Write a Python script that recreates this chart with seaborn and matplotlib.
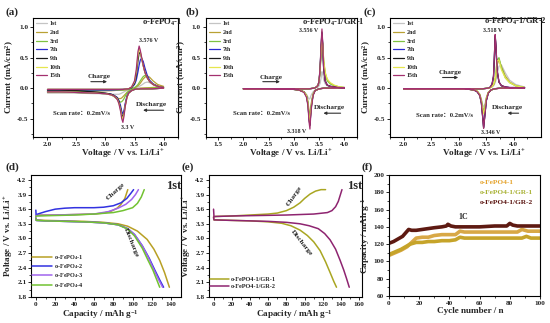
import matplotlib
matplotlib.use('Agg')
import matplotlib.pyplot as plt
import seaborn as sns
import numpy as np

sns.set_theme(style='ticks')
plt.rcParams['font.family'] = ['Liberation Serif', 'Noto Sans CJK SC', 'DejaVu Sans']
plt.rcParams['font.weight'] = 'bold'
plt.rcParams['axes.labelweight'] = 'bold'
plt.rcParams['mathtext.fontset'] = 'custom'
plt.rcParams['mathtext.rm'] = 'Liberation Serif:bold'
plt.rcParams['mathtext.it'] = 'Liberation Serif:bold'
plt.rcParams['mathtext.bf'] = 'Liberation Serif:bold'
plt.rcParams['mathtext.default'] = 'rm'

# ---------------- data ----------------
cycles = ['1st', '2nd', '3rd', '7th', '9th', '10th', '15th']
cycle_colors = ['#c4c4c4', '#b9a134', '#7fc241', '#2a2ad0', '#1a1a1a', '#e6e64e', '#a3306f']

# (a) o-FePO4-1
a_va = [2.0, 2.3, 2.6, 2.9, 3.1, 3.3, 3.4, 3.45, 3.5, 3.53, 3.56, 3.58, 3.6, 3.62, 3.65, 3.68, 3.72, 3.76, 3.82, 3.9, 4.0]
a_ia_1st = [-0.06, -0.06, -0.06, -0.05, -0.04, -0.03, -0.02, -0.01, 0.0, 0.01, 0.02, 0.03, 0.04, 0.05, 0.07, 0.09, 0.1, 0.09, 0.07, 0.04, 0.02]
a_ia_2nd = [-0.05, -0.05, -0.05, -0.04, -0.04, -0.03, -0.02, -0.01, 0.0, 0.02, 0.04, 0.06, 0.08, 0.11, 0.15, 0.18, 0.2, 0.18, 0.12, 0.06, 0.03]
a_ia_3rd = [-0.04, -0.04, -0.04, -0.04, -0.03, -0.03, -0.02, -0.01, 0.01, 0.03, 0.06, 0.09, 0.12, 0.15, 0.19, 0.21, 0.18, 0.12, 0.07, 0.03, 0.01]
a_ia_7th = [-0.03, -0.03, -0.03, -0.03, -0.03, -0.02, -0.01, 0.01, 0.06, 0.13, 0.27, 0.38, 0.46, 0.49, 0.44, 0.33, 0.21, 0.13, 0.07, 0.03, 0.01]
a_ia_9th = [-0.02, -0.02, -0.02, -0.02, -0.02, -0.02, -0.01, 0.01, 0.08, 0.2, 0.45, 0.58, 0.58, 0.5, 0.37, 0.26, 0.17, 0.11, 0.06, 0.03, 0.01]
a_ia_10th = [-0.02, -0.02, -0.02, -0.02, -0.02, -0.02, -0.01, 0.02, 0.1, 0.26, 0.54, 0.64, 0.6, 0.5, 0.37, 0.26, 0.17, 0.11, 0.06, 0.03, 0.01]
a_ia_15th = [-0.02, -0.02, -0.02, -0.02, -0.02, -0.02, -0.01, 0.02, 0.12, 0.3, 0.6, 0.69, 0.62, 0.52, 0.38, 0.26, 0.17, 0.11, 0.06, 0.03, 0.01]
a_vc = [4.0, 3.8, 3.6, 3.5, 3.45, 3.4, 3.37, 3.34, 3.32, 3.3, 3.28, 3.26, 3.23, 3.2, 3.15, 3.1, 3.0, 2.8, 2.5, 2.2, 2.0]
a_ic_1st = [0.02, 0.01, 0.0, -0.01, -0.02, -0.03, -0.04, -0.05, -0.06, -0.07, -0.08, -0.09, -0.1, -0.1, -0.1, -0.1, -0.09, -0.09, -0.08, -0.08, -0.08]
a_ic_2nd = [0.02, 0.01, 0.0, -0.02, -0.03, -0.05, -0.07, -0.1, -0.12, -0.14, -0.16, -0.17, -0.17, -0.16, -0.13, -0.11, -0.09, -0.08, -0.07, -0.07, -0.07]
a_ic_3rd = [0.01, 0.0, -0.01, -0.02, -0.03, -0.05, -0.08, -0.13, -0.17, -0.2, -0.22, -0.23, -0.21, -0.18, -0.14, -0.11, -0.09, -0.08, -0.07, -0.06, -0.06]
a_ic_7th = [0.0, -0.01, -0.01, -0.02, -0.04, -0.07, -0.13, -0.25, -0.36, -0.42, -0.38, -0.29, -0.2, -0.15, -0.12, -0.1, -0.09, -0.08, -0.07, -0.06, -0.06]
a_ic_9th = [0.0, -0.01, -0.01, -0.02, -0.04, -0.08, -0.14, -0.28, -0.4, -0.47, -0.43, -0.33, -0.22, -0.16, -0.12, -0.1, -0.08, -0.06, -0.04, -0.03, -0.03]
a_ic_10th = [0.0, -0.01, -0.01, -0.02, -0.04, -0.08, -0.15, -0.29, -0.42, -0.51, -0.46, -0.35, -0.24, -0.17, -0.13, -0.11, -0.09, -0.08, -0.07, -0.06, -0.06]
a_ic_15th = [0.0, -0.01, -0.01, -0.02, -0.04, -0.08, -0.15, -0.3, -0.45, -0.56, -0.5, -0.38, -0.25, -0.18, -0.13, -0.11, -0.09, -0.08, -0.07, -0.06, -0.06]

# (b) o-FePO4-1/GR-1
b_va = [2.0, 2.5, 3.0, 3.3, 3.4, 3.45, 3.48, 3.5, 3.52, 3.54, 3.556, 3.57, 3.59, 3.62, 3.66, 3.72, 3.8, 3.9, 4.0]
b_ia_1st = [-0.01, -0.01, -0.01, -0.01, 0.0, 0.01, 0.02, 0.04, 0.08, 0.17, 0.27, 0.24, 0.14, 0.07, 0.04, 0.02, 0.01, 0.01, 0.0]
b_ia_2nd = [-0.01, -0.01, -0.01, -0.01, 0.0, 0.02, 0.05, 0.12, 0.3, 0.6, 0.8, 0.72, 0.45, 0.25, 0.14, 0.08, 0.04, 0.02, 0.01]
b_ia_3rd = [-0.01, -0.01, -0.01, -0.01, 0.0, 0.02, 0.05, 0.12, 0.31, 0.62, 0.82, 0.72, 0.43, 0.23, 0.12, 0.07, 0.04, 0.02, 0.01]
b_ia_7th = [-0.01, -0.01, -0.01, -0.01, 0.0, 0.02, 0.05, 0.12, 0.33, 0.68, 0.9, 0.72, 0.32, 0.12, 0.05, 0.03, 0.02, 0.01, 0.0]
b_ia_9th = [-0.01, -0.01, -0.01, -0.01, 0.0, 0.02, 0.05, 0.12, 0.33, 0.7, 0.92, 0.73, 0.32, 0.12, 0.05, 0.03, 0.02, 0.01, 0.0]
b_ia_10th = [-0.01, -0.01, -0.01, -0.01, 0.0, 0.02, 0.05, 0.12, 0.3, 0.6, 0.81, 0.72, 0.46, 0.26, 0.15, 0.09, 0.05, 0.02, 0.01]
b_ia_15th = [-0.01, -0.01, -0.01, -0.01, 0.0, 0.02, 0.05, 0.13, 0.35, 0.74, 0.97, 0.76, 0.33, 0.12, 0.05, 0.03, 0.02, 0.01, 0.0]
b_vc = [4.0, 3.8, 3.6, 3.5, 3.42, 3.38, 3.35, 3.33, 3.318, 3.3, 3.28, 3.25, 3.2, 3.1, 3.0, 2.5, 2.0]
b_ic_1st = [0.0, 0.0, 0.0, -0.01, -0.03, -0.06, -0.1, -0.14, -0.17, -0.18, -0.15, -0.1, -0.06, -0.03, -0.02, -0.01, -0.01]
b_ic_2nd = [0.01, 0.0, 0.0, -0.01, -0.04, -0.1, -0.22, -0.35, -0.44, -0.38, -0.22, -0.12, -0.06, -0.03, -0.02, -0.01, -0.01]
b_ic_3rd = [0.01, 0.0, 0.0, -0.01, -0.04, -0.1, -0.24, -0.38, -0.5, -0.42, -0.24, -0.12, -0.06, -0.03, -0.02, -0.01, -0.01]
b_ic_7th = [0.01, 0.0, 0.0, -0.01, -0.04, -0.11, -0.27, -0.45, -0.6, -0.5, -0.27, -0.13, -0.06, -0.03, -0.02, -0.01, -0.01]
b_ic_9th = [0.01, 0.0, 0.0, -0.01, -0.04, -0.11, -0.28, -0.46, -0.61, -0.5, -0.27, -0.13, -0.06, -0.03, -0.02, -0.01, -0.01]
b_ic_10th = [0.01, 0.0, 0.0, -0.01, -0.04, -0.1, -0.25, -0.41, -0.55, -0.45, -0.25, -0.12, -0.06, -0.03, -0.02, -0.01, -0.01]
b_ic_15th = [0.01, 0.0, 0.0, -0.01, -0.04, -0.12, -0.3, -0.5, -0.67, -0.55, -0.3, -0.15, -0.07, -0.03, -0.02, -0.01, -0.01]

# (c) o-FePO4-1/GR-2 (voltages as read against the panel's own tick marks)
c_va = [2.0, 2.55, 3.1, 3.43, 3.54, 3.58, 3.61, 3.635, 3.65, 3.665, 3.68, 3.7, 3.735, 3.78, 3.85, 3.93, 4.04, 4.2]
c_ia_1st = [-0.01, -0.01, -0.01, -0.01, 0.0, 0.01, 0.02, 0.04, 0.06, 0.09, 0.13, 0.22, 0.36, 0.38, 0.25, 0.13, 0.06, 0.02]
c_ia_2nd = [-0.01, -0.01, -0.01, -0.01, 0.0, 0.01, 0.03, 0.05, 0.08, 0.13, 0.2, 0.38, 0.47, 0.35, 0.2, 0.1, 0.04, 0.01]
c_ia_3rd = [-0.01, -0.01, -0.01, -0.01, 0.0, 0.01, 0.03, 0.06, 0.1, 0.16, 0.26, 0.46, 0.5, 0.33, 0.17, 0.09, 0.04, 0.01]
c_ia_7th = [-0.01, -0.01, -0.01, -0.01, 0.0, 0.02, 0.07, 0.19, 0.48, 0.84, 0.68, 0.29, 0.1, 0.04, 0.02, 0.01, 0.01, 0.0]
c_ia_9th = [-0.01, -0.01, -0.01, -0.01, 0.0, 0.02, 0.07, 0.19, 0.49, 0.86, 0.69, 0.29, 0.1, 0.04, 0.02, 0.01, 0.01, 0.0]
c_ia_10th = [-0.01, -0.01, -0.01, -0.01, 0.0, 0.01, 0.03, 0.06, 0.1, 0.16, 0.25, 0.45, 0.46, 0.3, 0.17, 0.09, 0.04, 0.01]
c_ia_15th = [-0.01, -0.01, -0.01, -0.01, 0.0, 0.02, 0.07, 0.2, 0.5, 0.88, 0.7, 0.3, 0.1, 0.04, 0.02, 0.01, 0.01, 0.0]
c_vc = [4.2, 3.98, 3.76, 3.65, 3.59, 3.54, 3.505, 3.48, 3.455, 3.44, 3.415, 3.385, 3.34, 3.28, 3.2, 3.1, 2.55, 2.0]
c_ic_1st = [0.01, 0.0, 0.0, -0.01, -0.03, -0.07, -0.15, -0.26, -0.31, -0.28, -0.18, -0.1, -0.05, -0.03, -0.02, -0.01, -0.01, -0.01]
c_ic_2nd = [0.01, 0.0, 0.0, -0.01, -0.03, -0.07, -0.16, -0.3, -0.37, -0.33, -0.2, -0.1, -0.05, -0.03, -0.02, -0.01, -0.01, -0.01]
c_ic_3rd = [0.01, 0.0, 0.0, -0.01, -0.03, -0.07, -0.17, -0.32, -0.4, -0.35, -0.21, -0.11, -0.05, -0.03, -0.02, -0.01, -0.01, -0.01]
c_ic_7th = [0.01, 0.0, 0.0, -0.01, -0.03, -0.08, -0.2, -0.42, -0.64, -0.48, -0.24, -0.12, -0.06, -0.03, -0.02, -0.01, -0.01, -0.01]
c_ic_9th = [0.01, 0.0, 0.0, -0.01, -0.03, -0.08, -0.2, -0.42, -0.65, -0.49, -0.25, -0.12, -0.06, -0.03, -0.02, -0.01, -0.01, -0.01]
c_ic_10th = [0.01, 0.0, 0.0, -0.01, -0.03, -0.07, -0.17, -0.33, -0.42, -0.36, -0.22, -0.11, -0.05, -0.03, -0.02, -0.01, -0.01, -0.01]
c_ic_15th = [0.01, 0.0, 0.0, -0.01, -0.03, -0.08, -0.2, -0.42, -0.66, -0.5, -0.25, -0.12, -0.06, -0.03, -0.02, -0.01, -0.01, -0.01]

# (d) charge/discharge, 1st cycle
d_labels = ['o-FePO$_4$-1', 'o-FePO$_4$-2', 'o-FePO$_4$-3', 'o-FePO$_4$-4']
d_colors = ['#b8a024', '#3232e0', '#a064ee', '#72c232']
d1_cq = [0, 0.5, 5, 20, 40, 60, 70, 78, 84, 88, 92, 95]
d1_cv = [3.46, 3.48, 3.48, 3.48, 3.49, 3.5, 3.52, 3.56, 3.62, 3.7, 3.82, 4.0]
d2_cq = [0, 0.3, 2, 10, 20, 30, 40, 60, 70, 80, 88, 94, 98, 101]
d2_cv = [3.58, 3.48, 3.5, 3.55, 3.6, 3.62, 3.63, 3.63, 3.64, 3.67, 3.73, 3.82, 3.92, 4.0]
d3_cq = [0, 1, 20, 40, 60, 75, 85, 93, 99, 103, 106]
d3_cv = [3.47, 3.47, 3.48, 3.49, 3.5, 3.55, 3.62, 3.7, 3.8, 3.9, 4.0]
d4_cq = [0, 1, 20, 40, 60, 80, 90, 100, 105, 109, 112]
d4_cv = [3.45, 3.46, 3.47, 3.48, 3.5, 3.53, 3.57, 3.63, 3.72, 3.85, 4.0]
d1_dq = [0, 0.5, 10, 30, 50, 70, 85, 95, 105, 115, 122, 128, 133, 138]
d1_dv = [3.42, 3.38, 3.37, 3.36, 3.35, 3.33, 3.3, 3.25, 3.15, 2.98, 2.78, 2.55, 2.3, 2.0]
d2_dq = [0, 0.5, 10, 30, 50, 70, 85, 95, 102, 110, 117, 123, 128, 132]
d2_dv = [3.42, 3.37, 3.36, 3.35, 3.34, 3.32, 3.28, 3.2, 3.08, 2.85, 2.6, 2.35, 2.15, 2.0]
d3_dq = [0, 0.5, 10, 30, 50, 70, 85, 95, 102, 110, 116, 122, 127, 131]
d3_dv = [3.42, 3.37, 3.36, 3.35, 3.34, 3.32, 3.28, 3.2, 3.08, 2.85, 2.62, 2.36, 2.15, 2.0]
d4_dq = [0, 0.5, 10, 30, 50, 70, 85, 95, 102, 110, 116, 121, 125, 128]
d4_dv = [3.41, 3.37, 3.36, 3.35, 3.34, 3.32, 3.28, 3.19, 3.05, 2.8, 2.55, 2.35, 2.15, 2.0]

# (e) charge/discharge, 1st cycle
e_labels = ['o-FePO4-1/GR-1', 'o-FePO4-1/GR-2']
e_colors = ['#a9a622', '#8e2470']
e1_cq = [0, 1, 20, 40, 60, 70, 80, 88, 95, 100, 106, 112, 118, 123]
e1_cv = [3.45, 3.45, 3.46, 3.48, 3.5, 3.52, 3.57, 3.64, 3.73, 3.82, 3.91, 3.97, 4.0, 4.0]
e2_cq = [0, 0.5, 2, 20, 50, 80, 110, 125, 130, 134, 137, 139, 141]
e2_cv = [3.6, 3.44, 3.45, 3.46, 3.47, 3.48, 3.5, 3.53, 3.57, 3.65, 3.76, 3.88, 4.0]
e1_dq = [0, 0.5, 20, 40, 60, 75, 85, 95, 103, 110, 117, 123, 128, 132, 135]
e1_dv = [3.43, 3.38, 3.37, 3.36, 3.34, 3.31, 3.26, 3.17, 3.06, 2.93, 2.75, 2.52, 2.3, 2.12, 2.0]
e2_dq = [0, 0.5, 20, 40, 60, 80, 95, 105, 115, 122, 128, 134, 139, 143, 146, 149]
e2_dv = [3.43, 3.38, 3.37, 3.36, 3.35, 3.33, 3.3, 3.26, 3.2, 3.1, 2.97, 2.78, 2.55, 2.35, 2.18, 2.0]

# (f) cycling at 1C
f_labels = ['o-FePO4-1', 'o-FePO4-1/GR-1', 'o-FePO4-1/GR-2']
f_text_colors = ['#e5a42e', '#a9b235', '#5a1410']
f_line_colors = ['#d8a846', '#c6a42a', '#5e1a12']
f1_n = [0, 4, 8, 12, 15, 18, 22, 26, 30, 35, 40, 44, 47, 50, 60, 70, 80, 85, 88, 92, 96, 100]
f1_c = [107, 110, 113, 117, 122, 127, 128, 128, 130, 131, 131, 131, 135, 134, 134, 134, 134, 134, 137, 135, 135, 135]
f2_n = [0, 4, 8, 10, 14, 18, 22, 26, 30, 35, 40, 44, 47, 50, 60, 70, 80, 88, 91, 94, 100]
f2_c = [108, 111, 114, 116, 120, 122, 122, 123, 123, 124, 124, 125, 128, 127, 127, 127, 127, 127, 129, 127, 127]
f3_n = [0, 3, 6, 9, 12, 13, 15, 18, 22, 26, 30, 35, 38, 39, 41, 44, 50, 60, 70, 78, 80, 82, 85, 90, 95, 100]
f3_c = [121, 123, 126, 129, 135, 137, 136, 136, 137, 138, 139, 140, 141, 143, 141, 140, 140, 140, 141, 141, 144, 142, 141, 141, 141, 141]

# ---------------- figure ----------------
W, H = 550, 323
fig = plt.figure(figsize=(5.5, 3.23), dpi=100)
fs_tick = 5.2
fs_lab = 6.6


def px_axes(l, r, t, b):
    return fig.add_axes([l / W, (H - b) / H, (r - l) / W, (b - t) / H])


def style(ax, xlabel, ylabel, xlab_x=0.5):
    ax.set_xlabel(xlabel, fontsize=fs_lab, fontweight='bold', labelpad=0.8)
    ax.set_ylabel(ylabel, fontsize=fs_lab, fontweight='bold', labelpad=1.0)
    ax.xaxis.label.set_x(xlab_x)
    ax.tick_params(axis='both', which='major', direction='out', length=2.3, width=0.7,
                   labelsize=fs_tick, pad=1.0)
    ax.tick_params(axis='both', which='minor', direction='out', length=1.4, width=0.6)
    for s in ax.spines.values():
        s.set_linewidth(0.8)
        s.set_color('black')
    for lab in ax.get_xticklabels() + ax.get_yticklabels():
        lab.set_fontweight('bold')


def arrow(ax, x0, x1, y):
    ax.annotate('', xy=(x1, y), xytext=(x0, y), xycoords='axes fraction',
                textcoords='axes fraction',
                arrowprops=dict(arrowstyle='-|>', lw=0.8, color='#303030', mutation_scale=4))


def cv_panel(ax, va, ias, vc, ics, title, title_px, xlim, xticks, xlab_x, up_lab, up_xy,
             dn_lab, dn_xy, charge, dis, scan_xy):
    for name, col, ia, ic in zip(cycles, cycle_colors, ias, ics):
        xs = list(va) + list(vc)
        ys = list(ia) + list(ic)
        sns.lineplot(x=xs, y=ys, sort=False, estimator=None, color=col, lw=0.9,
                     label=name, ax=ax)
    ax.set_xlim(*xlim)
    ax.set_ylim(-0.8, 1.15)
    ax.set_xticks(xticks)
    ax.set_yticks([-0.5, 0.0, 0.5, 1.0])
    ax.set_xticks(np.arange(xticks[0] - 0.25, xticks[-1] + 0.3, 0.5), minor=True)
    ax.set_yticks([-0.75, -0.25, 0.25, 0.75], minor=True)
    ax.xaxis.set_major_formatter(matplotlib.ticker.FormatStrFormatter('%.1f'))
    ax.yaxis.set_major_formatter(matplotlib.ticker.FormatStrFormatter('%.1f'))
    style(ax, 'Voltage / V vs. Li/Li$^{+}$', 'Current (mA/cm$^{2}$)', xlab_x)
    ax.legend(loc='upper left', fontsize=4.3, frameon=False, handlelength=1.8,
              labelspacing=0.58, borderaxespad=0.15, handletextpad=0.5)
    fig.text(title_px[0] / W, 1 - title_px[1] / H, title, ha='right', va='center',
             fontsize=6.2, fontweight='bold')
    ax.text(*up_xy, up_lab, transform=ax.transAxes, ha='center', va='center', fontsize=4.3)
    ax.text(*dn_xy, dn_lab, transform=ax.transAxes, ha='center', va='center', fontsize=4.3)
    tx, ty, ax0, ax1, ay = charge
    ax.text(tx, ty, 'Charge', transform=ax.transAxes, ha='center', va='center',
            fontsize=5.2, fontweight='bold')
    arrow(ax, ax0, ax1, ay)
    tx, ty, ax0, ax1, ay = dis
    ax.text(tx, ty, 'Discharge', transform=ax.transAxes, ha='center', va='center',
            fontsize=5.2, fontweight='bold')
    arrow(ax, ax0, ax1, ay)
    ax.text(scan_xy[0], scan_xy[1], 'Scan rate：0.2mV/s', transform=ax.transAxes,
            ha='left', va='center', fontsize=4.8, fontweight='bold')


ax_a = px_axes(33, 178, 18, 137)
cv_panel(ax_a, a_va,
         [a_ia_1st, a_ia_2nd, a_ia_3rd, a_ia_7th, a_ia_9th, a_ia_10th, a_ia_15th],
         a_vc,
         [a_ic_1st, a_ic_2nd, a_ic_3rd, a_ic_7th, a_ic_9th, a_ic_10th, a_ic_15th],
         'o-FePO$_4$-1', (182, 22), (1.75, 4.2), [2.0, 2.5, 3.0, 3.5, 4.0], 0.62,
         '3.576 V', (0.8, 0.81), '3.3 V', (0.65, 0.08),
         (0.455, 0.51, 0.38, 0.53, 0.465), (0.82, 0.27, 0.92, 0.74, 0.225), (0.14, 0.2))

ax_b = px_axes(205.5, 357, 18, 137)
cv_panel(ax_b, b_va,
         [b_ia_1st, b_ia_2nd, b_ia_3rd, b_ia_7th, b_ia_9th, b_ia_10th, b_ia_15th],
         b_vc,
         [b_ic_1st, b_ic_2nd, b_ic_3rd, b_ic_7th, b_ic_9th, b_ic_10th, b_ic_15th],
         'o-FePO$_4$-1/GR-1', (365, 22), (1.45, 4.2), [1.5, 2.0, 2.5, 3.0, 3.5, 4.0], 0.565,
         '3.556 V', (0.68, 0.895), '3.318 V', (0.6, 0.05),
         (0.43, 0.5, 0.36, 0.51, 0.465), (0.82, 0.25, 0.91, 0.76, 0.2), (0.18, 0.2))

ax_c = px_axes(390, 541, 18, 137)
cv_panel(ax_c, c_va,
         [c_ia_1st, c_ia_2nd, c_ia_3rd, c_ia_7th, c_ia_9th, c_ia_10th, c_ia_15th],
         c_vc,
         [c_ic_1st, c_ic_2nd, c_ic_3rd, c_ic_7th, c_ic_9th, c_ic_10th, c_ic_15th],
         'o-FePO$_4$-1/GR-2', (547, 21), (1.75, 4.5), [2.0, 2.5, 3.0, 3.5, 4.0], 0.62,
         '3.518 V', (0.68, 0.895), '3.346 V', (0.67, 0.04),
         (0.40, 0.54, 0.33, 0.47, 0.5), (0.78, 0.25, 0.87, 0.76, 0.2), (0.17, 0.18))


def gcd_style(ax, xlim, xticks, ylabel, xlab_x):
    ax.set_xlim(*xlim)
    ax.set_ylim(1.8, 4.3)
    ax.set_xticks(xticks)
    ax.set_xticks(np.arange(10, xticks[-1] + 1, 20), minor=True)
    ax.set_yticks([1.8, 2.1, 2.4, 2.7, 3.0, 3.3, 3.6, 3.9, 4.2])
    ax.set_yticks(np.arange(1.95, 4.3, 0.3), minor=True)
    ax.yaxis.set_major_formatter(matplotlib.ticker.FormatStrFormatter('%.1f'))
    style(ax, 'Capacity / mAh g$^{-1}$', ylabel, xlab_x)
    ax.text(1.005, 0.955, '1st', transform=ax.transAxes, ha='right', va='top',
            fontsize=9, fontweight='bold')


ax_d = px_axes(31, 181, 175, 297)
d_charge = [(d1_cq, d1_cv), (d2_cq, d2_cv), (d3_cq, d3_cv), (d4_cq, d4_cv)]
d_dis = [(d1_dq, d1_dv), (d2_dq, d2_dv), (d3_dq, d3_dv), (d4_dq, d4_dv)]
for lab, col, (cq, cv), (dq, dv) in zip(d_labels, d_colors, d_charge, d_dis):
    sns.lineplot(x=cq, y=cv, sort=False, estimator=None, color=col, lw=1.1, label=lab, ax=ax_d)
    sns.lineplot(x=dq, y=dv, sort=False, estimator=None, color=col, lw=1.1, ax=ax_d)
gcd_style(ax_d, (-5, 150), list(range(0, 141, 20)), 'Poltage / V vs. Li/Li$^{+}$', 0.46)
ax_d.legend(loc='lower left', fontsize=4.5, frameon=False, handlelength=3.2,
            labelspacing=0.05, borderaxespad=0.0, borderpad=0.0, handletextpad=0.4,
            bbox_to_anchor=(0.005, 0.06))
ax_d.text(82, 3.97, 'Charge', rotation=42, ha='center', va='center', fontsize=5.3,
          fontweight='bold')
ax_d.text(98, 2.92, 'Discharge', rotation=-68, ha='center', va='center', fontsize=5.3,
          fontweight='bold')

ax_e = px_axes(209, 362, 175, 297)
e_charge = [(e1_cq, e1_cv), (e2_cq, e2_cv)]
e_dis = [(e1_dq, e1_dv), (e2_dq, e2_dv)]
for lab, col, (cq, cv), (dq, dv) in zip(e_labels, e_colors, e_charge, e_dis):
    sns.lineplot(x=cq, y=cv, sort=False, estimator=None, color=col, lw=1.1, label=lab, ax=ax_e)
    sns.lineplot(x=dq, y=dv, sort=False, estimator=None, color=col, lw=1.1, ax=ax_e)
gcd_style(ax_e, (-5, 163), list(range(0, 161, 20)), 'Voltage / V vs. Li/Li$^{+}$', 0.555)
ax_e.legend(loc='lower left', fontsize=4.5, frameon=False, handlelength=3.0,
            labelspacing=0.28, borderaxespad=0.0, borderpad=0.0, handletextpad=0.4,
            bbox_to_anchor=(0.006, 0.065))
ax_e.text(89, 3.86, 'Charge', rotation=55, ha='center', va='center', fontsize=5.3,
          fontweight='bold')
ax_e.text(97, 2.9, 'Discharge', rotation=-52, ha='center', va='center', fontsize=5.3,
          fontweight='bold')

ax_f = px_axes(389, 540, 175, 296)
f_series = [(f1_n, f1_c), (f2_n, f2_c), (f3_n, f3_c)]
for lab, col, (n, c) in zip(f_labels, f_line_colors, f_series):
    sns.lineplot(x=n, y=c, sort=False, estimator=None, color=col, lw=2.6, ax=ax_f)
ax_f.set_xlim(0, 100)
ax_f.set_ylim(60, 200)
ax_f.set_xticks([0, 20, 40, 60, 80, 100])
ax_f.set_xticks([10, 30, 50, 70, 90], minor=True)
ax_f.set_yticks(list(range(60, 201, 20)))
ax_f.set_yticks(list(range(70, 200, 20)), minor=True)
style(ax_f, 'Cycle number / n', 'Capacity / mAh g$^{-1}$', 0.54)
for i, (lab, col) in enumerate(zip(f_labels, f_text_colors)):
    ax_f.text(0.6, 0.94 - 0.085 * i, lab, transform=ax_f.transAxes, ha='left', va='center',
              fontsize=5.3, fontweight='bold', color=col)
ax_f.text(49, 151, '1C', ha='center', va='center', fontsize=5.8, fontweight='bold')

# panel labels
for lab, (x, y) in zip(['(a)', '(b)', '(c)', '(d)', '(e)', '(f)'],
                       [(5, 12), (186, 12), (364, 12), (5, 167), (181, 167), (361, 167)]):
    fig.text(x / W, 1 - y / H, lab, ha='left', va='center', fontsize=8, fontweight='bold')

fig.savefig('out.png', dpi=100, facecolor='white')
